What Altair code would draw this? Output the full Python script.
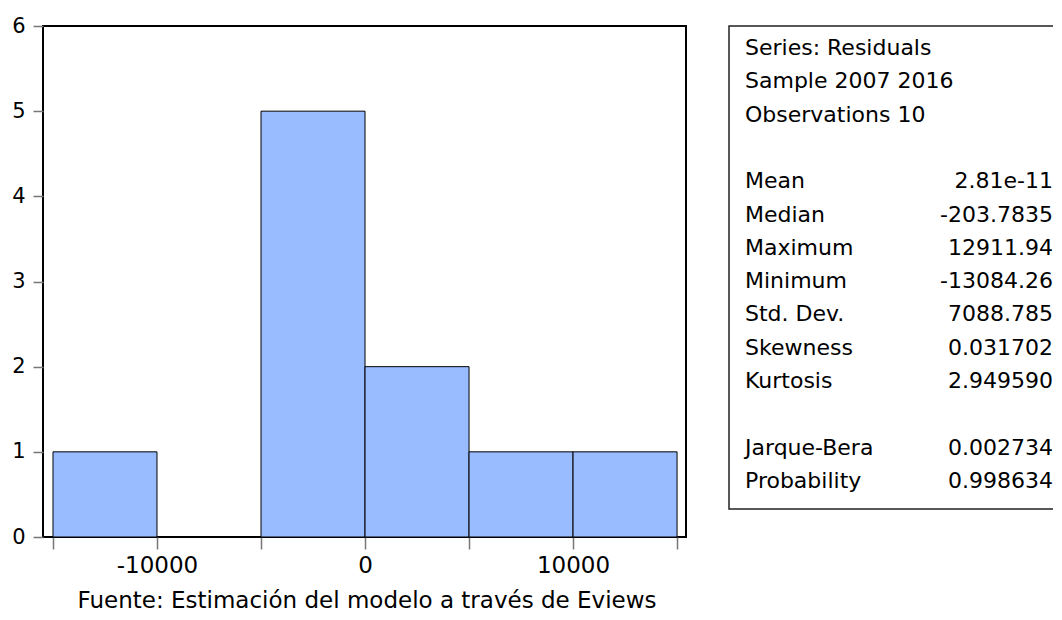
import altair as alt
import pandas as pd

# Histogram data (residuals)
bin_start = [-15000, -10000, -5000, 0, 5000, 10000]
bin_end = [-10000, -5000, 0, 5000, 10000, 15000]
counts = [1, 0, 5, 2, 1, 1]

# Stats box text
header_lines = ["Series: Residuals", "Sample 2007 2016", "Observations 10"]
stat_names = ["Mean", "Median", "Maximum", "Minimum", "Std. Dev.", "Skewness", "Kurtosis"]
stat_values = ["2.81e-11", "-203.7835", "12911.94", "-13084.26", "7088.785", "0.031702", "2.949590"]
test_names = ["Jarque-Bera", "Probability"]
test_values = ["0.002734", "0.998634"]

x_ticks = [-15000, -10000, -5000, 0, 5000, 10000, 15000]
y_ticks = [0, 1, 2, 3, 4, 5, 6]
caption = "Fuente: Estimación del modelo a través de Eviews"

FONT = "DejaVu Sans"

hist = pd.DataFrame({"start": bin_start, "end": bin_end, "count": counts})

bars = alt.Chart(hist).transform_filter("datum.count > 0").mark_rect(
    fill="#99BBFF", stroke="black", strokeWidth=1
).encode(
    x=alt.X("start:Q",
            scale=alt.Scale(domain=[-15480, 15430], nice=False, zero=False),
            axis=alt.Axis(values=x_ticks, title=None, grid=False,
                          domain=False, tickSize=12, tickColor="#777777",
                          tickWidth=1.5,
                          labelFontSize=23, labelFont=FONT, labelColor="black",
                          labelPadding=5, labelFlush=False, labelOverlap=False,
                          labelExpr="datum.value % 10000 == 0 ? '' + datum.value : ''")),
    x2="end:Q",
    y=alt.Y("count:Q",
            scale=alt.Scale(domain=[0, 6], nice=False),
            axis=alt.Axis(values=y_ticks, title=None, grid=False, domain=False,
                          tickSize=10, tickColor="#777777", tickWidth=1.5,
                          labelFontSize=21, labelFont=FONT, labelColor="black",
                          labelPadding=8)),
    y2=alt.datum(0),
)

# Stats table rows (slot index keeps blank lines between groups)
left_rows = header_lines + stat_names + test_names
right_rows = [""] * len(header_lines) + stat_values + test_values
slots = [0, 1, 2] + [4, 5, 6, 7, 8, 9, 10] + [12, 13]
stats = pd.DataFrame({"slot": slots, "name": left_rows, "value": right_rows})

slot_scale = alt.Scale(domain=[0, 13], range=[22, 455])

box = alt.Chart(pd.DataFrame({"a": [0]})).mark_rect(
    fill="white", fillOpacity=0, stroke="#222222", strokeWidth=1.5
).encode(
    x=alt.value(686), x2=alt.value(1030), y=alt.value(0), y2=alt.value(483)
)

names = alt.Chart(stats).mark_text(
    align="left", baseline="middle", fontSize=22, font=FONT, color="black"
).encode(
    x=alt.value(702),
    y=alt.Y("slot:Q", scale=slot_scale, axis=None),
    text="name:N",
)

values = alt.Chart(stats).mark_text(
    align="right", baseline="middle", fontSize=22, font=FONT, color="black"
).encode(
    x=alt.value(1010),
    y=alt.Y("slot:Q", scale=slot_scale, axis=None),
    text="value:N",
)

cap = alt.Chart(pd.DataFrame({"t": [caption]})).mark_text(
    align="center", baseline="alphabetic", fontSize=23, font=FONT, color="black"
).encode(
    x=alt.value(324), y=alt.value(582), text="t:N"
)

chart = alt.layer(bars, box, names, values, cap).resolve_scale(
    y="independent"
).properties(
    width=643, height=511,
    autosize=alt.AutoSizeParams(type="none"),
    padding={"left": 35, "top": 18, "right": 367, "bottom": 75},
    background="white",
).configure_view(
    stroke="black", strokeWidth=2
)

chart.save("out.html", embed_options={"renderer": "svg", "actions": False})
